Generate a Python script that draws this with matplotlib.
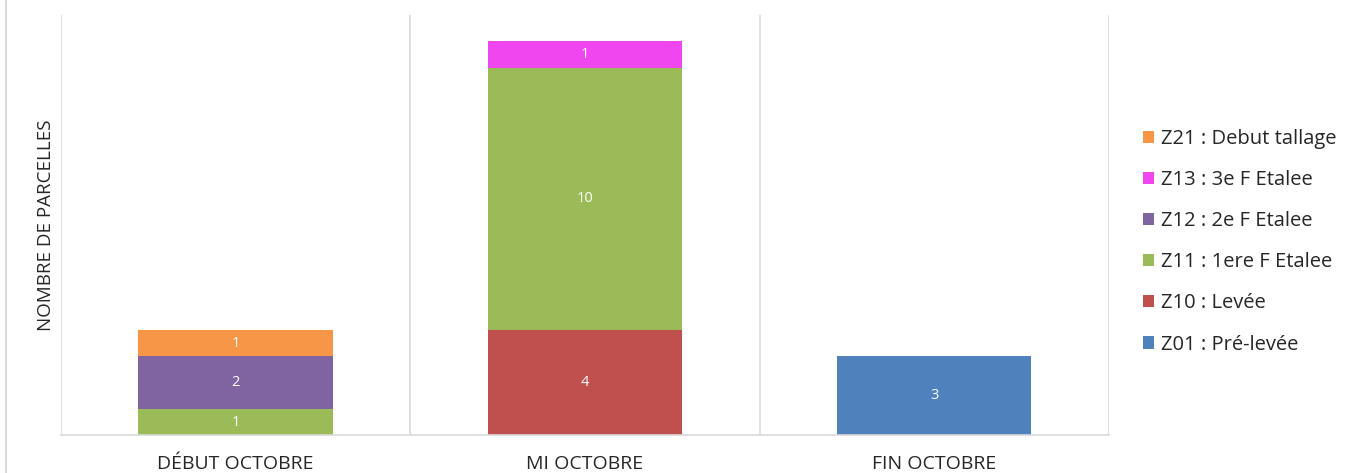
import matplotlib
matplotlib.use("Agg")
import matplotlib.pyplot as plt
from matplotlib.lines import Line2D
import numpy as np

plt.rcParams["font.family"] = ["Open Sans", "DejaVu Sans"]

# ── data ──────────────────────────────────────────────
categories = ["DÉBUT OCTOBRE", "MI OCTOBRE", "FIN OCTOBRE"]
stages = ["Z01 : Pré-levée", "Z10 : Levée", "Z11 : 1ere F Etalee",
          "Z12 : 2e F Etalee", "Z13 : 3e F Etalee", "Z21 : Debut tallage"]
z01 = [0, 0, 3]
z10 = [0, 4, 0]
z11 = [1, 10, 0]
z12 = [2, 0, 0]
z13 = [0, 1, 0]
z21 = [1, 0, 0]
series = [z01, z10, z11, z12, z13, z21]
colors = ["#4F81BD", "#C0504D", "#9BBB59", "#8064A2", "#F046F0", "#F79646"]

# ── figure ────────────────────────────────────────────
fig = plt.figure(figsize=(13.54, 4.73), dpi=100)
ax = fig.add_axes([0.045, 0.080, 0.774, 0.888])

x = np.arange(len(categories))
bottom = np.zeros(len(categories))
handles = []
for vals, col, lab in zip(series, colors, stages):
    vals = np.array(vals, dtype=float)
    bars = ax.bar(x, vals, bottom=bottom, width=0.556, color=col, label=lab)
    for xi, v, b in zip(x, vals, bottom):
        if v > 0:
            ax.text(xi, b + v / 2, f"{int(v)}", ha="center", va="center",
                    color="white", fontsize=10.5)
    bottom += vals
    handles.append(bars)

ax.set_xlim(-0.5, 2.5)
ax.set_ylim(0, 16)
ax.set_yticks([])
ax.set_xticks(x)
ax.set_xticklabels(categories, fontsize=14)
ax.tick_params(axis="x", length=0, pad=14, colors="#262626")

for xv in [-0.5, 0.5, 1.5, 2.5]:
    ax.axvline(xv, color="#D9D9D9", lw=1.2, zorder=0)
for s in ["top", "right", "left"]:
    ax.spines[s].set_visible(False)
ax.spines["bottom"].set_color("#D9D9D9")
ax.spines["bottom"].set_linewidth(1.2)

ax.set_ylabel("NOMBRE DE PARCELLES", fontsize=13.5, color="#262626", labelpad=4)

# chart border (left edge visible)
fig.add_artist(Line2D([6 / 1354, 6 / 1354], [0, 1], color="#D9D9D9", lw=1.5,
                      transform=fig.transFigure))

leg = fig.legend(handles[::-1], stages[::-1], loc="center left",
                 bbox_to_anchor=(0.838, 0.489), frameon=False, fontsize=14.5,
                 handlelength=0.55, handleheight=0.55, handletextpad=0.35,
                 labelspacing=1.05, borderaxespad=0)
for t in leg.get_texts():
    t.set_color("#262626")

fig.savefig("out.png", dpi=100)
